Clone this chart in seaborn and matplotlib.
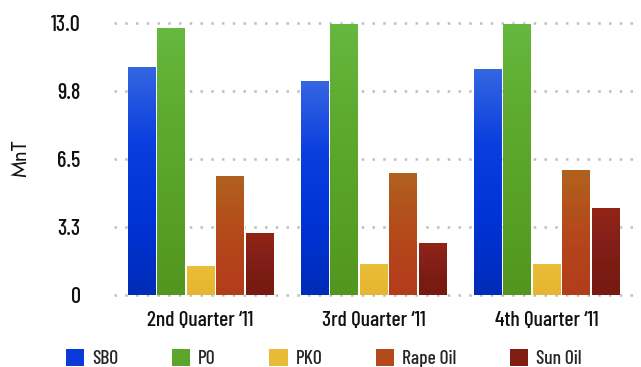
import numpy as np
import pandas as pd
import matplotlib
matplotlib.use("Agg")
import matplotlib.pyplot as plt
from matplotlib.colors import LinearSegmentedColormap
from matplotlib.patches import Patch
import seaborn as sns

# Quarterly volumes (million tonnes) per oil
quarters = ["2nd Quarter \u201811", "3rd Quarter \u201811", "4th Quarter \u201811"]
oils = ["SBO", "PO", "PKO", "Rape Oil", "Sun Oil"]
sbo = [10.88, 10.21, 10.79]
po = [12.75, 12.94, 12.94]
pko = [1.37, 1.47, 1.47]
rape_oil = [5.67, 5.82, 5.96]
sun_oil = [2.95, 2.47, 4.15]

y_ticks = [0, 3.25, 6.5, 9.75, 13.0]
y_tick_labels = ["0", "3.3", "6.5", "9.8", "13.0"]

# Gradient stops (top -> bottom) for each oil
gradients = {
    "SBO": ["#3566e2", "#0a3ede", "#0033d6", "#002cb8"],
    "PO": ["#66b83e", "#5eaa30", "#58a126", "#52961f"],
    "PKO": ["#e9be3a", "#e8bb36", "#e6b834", "#e6b533"],
    "Rape Oil": ["#b0621f", "#b3501b", "#b4431a", "#b23d1a"],
    "Sun Oil": ["#922414", "#85201a", "#7b1c13", "#761a12"],
}
solid = {"SBO": "#0a3ad8", "PO": "#5aa52a", "PKO": "#e8bb36",
         "Rape Oil": "#b34a1c", "Sun Oil": "#801e14"}

df = pd.DataFrame({
    "quarter": np.repeat(quarters, len(oils)),
    "oil": oils * len(quarters),
    "value": [v for q in zip(sbo, po, pko, rape_oil, sun_oil) for v in q],
})

sns.set_theme(style="white")
plt.rcParams["font.family"] = ["Barlow Condensed", "DejaVu Sans"]
plt.rcParams["font.weight"] = 500

fig = plt.figure(figsize=(6.41, 3.67), dpi=100)
ax = fig.add_axes([0.1778, 0.197, 0.8097, 0.741])

sns.barplot(data=df, x="quarter", y="value", hue="oil", hue_order=oils,
            palette=solid, width=0.85, gap=0.07, legend=False, ax=ax,
            zorder=2)

# Paint each bar with a vertical gradient
grad = np.linspace(0, 1, 256)[:, None]
for oil, container in zip(oils, ax.containers):
    cmap = LinearSegmentedColormap.from_list(oil, gradients[oil])
    for bar in container:
        x0, w, h = bar.get_x(), bar.get_width(), bar.get_height()
        ax.imshow(grad, cmap=cmap, extent=[x0, x0 + w, 0, h],
                  origin="upper", aspect="auto", zorder=3,
                  interpolation="bilinear")

ax.set_xlim(-0.5, 2.5)
ax.set_ylim(0, 13.0)
ax.set_yticks(y_ticks)
ax.set_yticklabels(y_tick_labels)

# Dotted horizontal guides at every tick
for y in y_ticks:
    ax.axhline(y, color="#bdbdbd", linewidth=1.8,
               linestyle=(0, (1.0, 3.3)), zorder=1, clip_on=False)

for s in ax.spines.values():
    s.set_visible(False)
ax.tick_params(axis="both", length=0, labelsize=16, colors="#111111")
ax.tick_params(axis="y", pad=24)
ax.tick_params(axis="x", pad=12, labelsize=15.5)
ax.set_xlabel("")
ax.set_ylabel("MnT", fontsize=15, family=["Jost", "DejaVu Sans"],
              fontweight=400, labelpad=14, color="#111111")

handles = [Patch(facecolor=solid[o], edgecolor="none", label=o) for o in oils]
fig.legend(handles=handles, loc="lower center", ncol=5, frameon=False,
           bbox_to_anchor=(0.505, -0.05), fontsize=14, handlelength=0.95,
           handleheight=0.95, handletextpad=0.4, columnspacing=2.75)

fig.savefig("out.png", dpi=100)
